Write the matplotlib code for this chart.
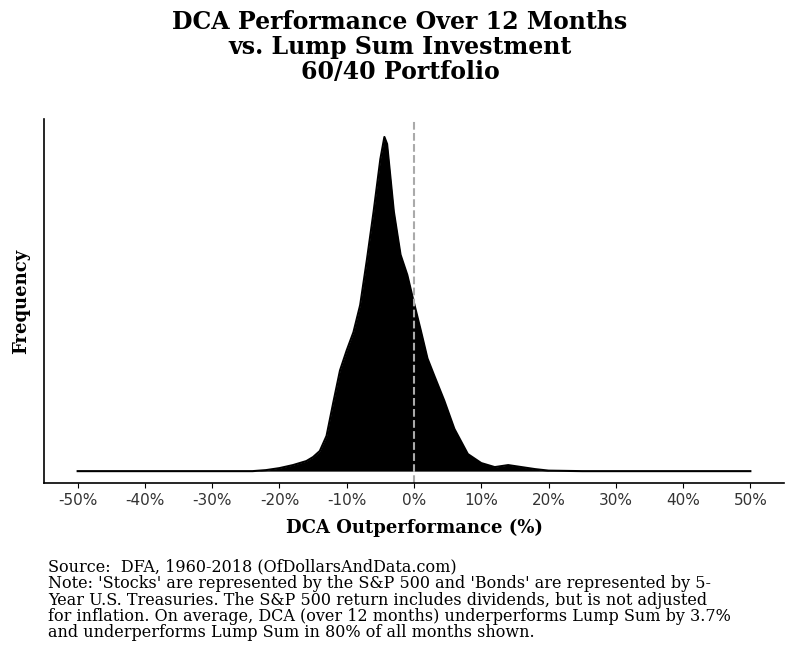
import matplotlib
matplotlib.use("Agg")
import matplotlib.pyplot as plt
import numpy as np

x_pct = [-50, -30, -24, -22, -20, -18, -16, -15, -14, -13, -12, -11, -10, -9, -8, -7, -6, -5, -4.4, -4, -3, -2, -1, 0, 1, 2, 3, 4.5, 6, 8, 10, 12, 14, 16, 18, 20, 25, 50]
density = [0, 0, 0, 1, 3, 6, 10, 14, 20, 35, 68, 100, 120, 138, 165, 210, 258, 310, 332, 325, 258, 215, 195, 167, 140, 112, 95, 70, 42, 17, 8, 4, 6, 4, 2, 0.5, 0, 0]
xticks = list(range(-50, 51, 10))
xticklabels = [f"{t}%" for t in xticks]

fig = plt.figure(figsize=(8, 6.53), dpi=100)
ax = fig.add_axes([0.055, 0.26, 0.925, 0.558])
xs = np.array(x_pct); ys = np.array(density, dtype=float)
ax.fill_between(xs, 0, ys, color="black", lw=0)
ax.plot(xs, ys, color="black", lw=1.5)
ax.axvline(0, color="#aaaaaa", ls="--", lw=1.5)
ax.set_xlim(-55, 55)
ax.set_ylim(-12, 350)
ax.set_xticks(xticks)
ax.set_xticklabels(xticklabels, fontsize=11, color="#333333")
ax.set_yticks([])
for s in ["top", "right"]:
    ax.spines[s].set_visible(False)
ax.spines["left"].set_linewidth(1.2)
ax.spines["bottom"].set_linewidth(1.2)
serif = "DejaVu Serif"
ax.set_xlabel("DCA Outperformance (%)", fontsize=13, family=serif, fontweight="semibold", labelpad=8)
ax.set_ylabel("Frequency", fontsize=13, family=serif, fontweight="bold", labelpad=10)
fig.suptitle("DCA Performance Over 12 Months\nvs. Lump Sum Investment\n60/40 Portfolio",
             fontsize=17, family=serif, fontweight="bold", y=0.985, linespacing=1.05)
note = ("Source:  DFA, 1960-2018 (OfDollarsAndData.com)\n"
        "Note: 'Stocks' are represented by the S&P 500 and 'Bonds' are represented by 5-\n"
        "Year U.S. Treasuries. The S&P 500 return includes dividends, but is not adjusted\n"
        "for inflation. On average, DCA (over 12 months) underperforms Lump Sum by 3.7%\n"
        "and underperforms Lump Sum in 80% of all months shown.")
fig.text(0.06, 0.018, note, fontsize=11.5, family=serif, va="bottom", linespacing=0.95)
fig.savefig("out.png", dpi=100)
